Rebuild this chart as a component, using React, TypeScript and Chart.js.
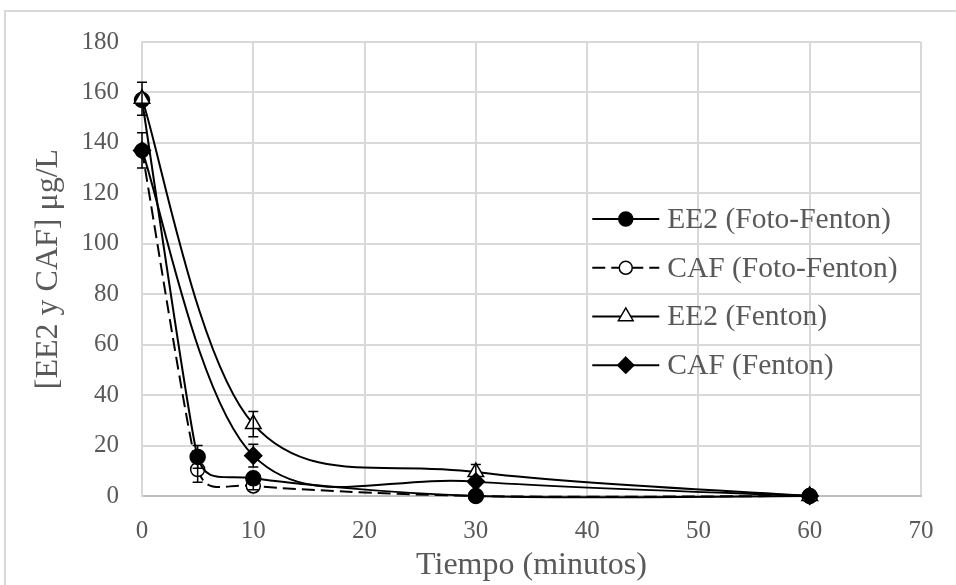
import React, { useEffect, useRef } from "react";
import { Chart, registerables } from "chart.js";

Chart.register(...registerables);

// ---- data ----
const fotoTimes = [0, 5, 10, 30, 60];
const fentonTimes = [0, 10, 30, 60];

const ee2FotoFenton = [157, 15.5, 7, 0, 0];
const ee2FotoFentonErr = [0, 4.5, 0, 0, 0];

const cafFotoFenton = [137, 10.5, 4, 0, 0];
const cafFotoFentonErr = [0, 5, 1.5, 0, 0];

const ee2Fenton = [157.5, 28.5, 9.5, 0];
const ee2FentonErr = [6.5, 5, 3, 0];

const cafFenton = [137, 16, 5.7, 0];
const cafFentonErr = [7, 4.5, 0, 0];

const seriesLabels = [
  "EE2 (Foto-Fenton)",
  "CAF (Foto-Fenton)",
  "EE2 (Fenton)",
  "CAF (Fenton)",
];

const xTicksMin = 0;
const xTicksMax = 70;
const xStep = 10;
const yTicksMin = 0;
const yTicksMax = 180;
const yStep = 20;

const xTitle = "Tiempo (minutos)";
const yTitle = "[EE2 y CAF] μg/L";

const FONT = "'Liberation Serif', 'Times New Roman', serif";
const TEXT = "#595959";
const GRID = "#d9d9d9";

const toXY = (xs: number[], ys: number[]) => xs.map((x, i) => ({ x, y: ys[i] }));

// Spreadsheet-style smoothed line: override bezier control points
const smoothPlugin = {
  id: "sheetSmooth",
  beforeDatasetDraw(chart: any, args: any) {
    const meta = args.meta;
    const line = meta.dataset;
    if (!line) return;
    line.updateControlPoints(chart.chartArea, meta.indexAxis);
    const pts = meta.data;
    const n = pts.length;
    const dist = (a: any, b: any) => Math.hypot(b.x - a.x, b.y - a.y);
    for (let i = 0; i < n; i++) {
      const p = pts[i];
      const prev = pts[Math.max(i - 1, 0)];
      const next = pts[Math.min(i + 1, n - 1)];
      const d02 = dist(prev, next);
      const d01 = dist(prev, p);
      const d12 = dist(p, next);
      let f = 1 / 6;
      if (d02 > 0) {
        if (!(d02 / 6 < d12 / 2 && d02 / 6 < d01 / 2)) {
          const dm = i === 0 ? d12 : i === n - 1 ? d01 : Math.min(d01, d12);
          f = dm / (2 * d02);
          if (i === 0 || i === n - 1) f = Math.min(f, 1 / 6);
        }
      }
      const tx = (next.x - prev.x) * f;
      const ty = (next.y - prev.y) * f;
      p.cp1x = p.x - tx;
      p.cp1y = p.y - ty;
      p.cp2x = p.x + tx;
      p.cp2y = p.y + ty;
    }
    line._path = undefined;
  },
};

const errorBarPlugin = {
  id: "errorBars",
  afterDatasetsDraw(chart: any) {
    const ctx = chart.ctx;
    const yScale = chart.scales.y;
    ctx.save();
    ctx.strokeStyle = "#000";
    ctx.lineWidth = 1.5;
    chart.data.datasets.forEach((ds: any, di: number) => {
      const errs: number[] = ds.errors || [];
      const meta = chart.getDatasetMeta(di);
      meta.data.forEach((pt: any, i: number) => {
        const e = errs[i];
        if (!e) return;
        const v = ds.data[i].y;
        const x = pt.x;
        const yTop = yScale.getPixelForValue(v + e);
        const yBot = yScale.getPixelForValue(Math.max(v - e, yTicksMin));
        ctx.beginPath();
        ctx.moveTo(x, yTop);
        ctx.lineTo(x, yBot);
        ctx.moveTo(x - 5, yTop);
        ctx.lineTo(x + 5, yTop);
        if (v - e >= yTicksMin) {
          ctx.moveTo(x - 5, yBot);
          ctx.lineTo(x + 5, yBot);
        }
        ctx.stroke();
      });
    });
    ctx.restore();
  },
};

const frameLegendPlugin = {
  id: "frameLegend",
  beforeDraw(chart: any) {
    const ctx = chart.ctx;
    ctx.save();
    ctx.fillStyle = "#fff";
    ctx.fillRect(0, 0, chart.width, chart.height);
    ctx.strokeStyle = GRID;
    ctx.lineWidth = 2;
    ctx.strokeRect(5, 11, chart.width + 20, chart.height + 20);
    ctx.restore();
  },
  afterDraw(chart: any) {
    const ctx = chart.ctx;
    const ca = chart.chartArea;
    const x0 = ca.left + (ca.right - ca.left) * 0.578;
    const lineLen = 67;
    const y0 = ca.top + (ca.bottom - ca.top) * 0.39;
    const rowH = 48.7;
    ctx.save();
    chart.data.datasets.forEach((ds: any, i: number) => {
      const y = y0 + i * rowH;
      ctx.strokeStyle = "#000";
      ctx.lineWidth = 2;
      ctx.setLineDash(ds.borderDash || []);
      ctx.beginPath();
      ctx.moveTo(x0, y);
      ctx.lineTo(x0 + lineLen, y);
      ctx.stroke();
      ctx.setLineDash([]);
      const cx = x0 + lineLen / 2;
      ctx.fillStyle = ds.pointBackgroundColor;
      ctx.strokeStyle = "#000";
      ctx.lineWidth = 1.5;
      const r = ds.pointRadius - 0.5;
      ctx.beginPath();
      if (ds.pointStyle === "circle") {
        ctx.arc(cx, y, r, 0, Math.PI * 2);
      } else if (ds.pointStyle === "triangle") {
        ctx.moveTo(cx, y - r);
        ctx.lineTo(cx + r * 0.87, y + r * 0.5);
        ctx.lineTo(cx - r * 0.87, y + r * 0.5);
        ctx.closePath();
      } else {
        ctx.moveTo(cx, y - r);
        ctx.lineTo(cx + r, y);
        ctx.lineTo(cx, y + r);
        ctx.lineTo(cx - r, y);
        ctx.closePath();
      }
      ctx.fill();
      ctx.stroke();
      ctx.fillStyle = TEXT;
      ctx.font = `29.5px ${FONT}`;
      ctx.textBaseline = "middle";
      ctx.textAlign = "left";
      ctx.fillText(ds.label, x0 + lineLen + 8, y + 1);
    });
    ctx.restore();
  },
};

export default function App() {
  const ref = useRef<HTMLCanvasElement>(null);

  useEffect(() => {
    const common = {
      borderColor: "#000",
      borderWidth: 2,
      pointBorderColor: "#000",
      pointBorderWidth: 1.5,
      tension: 0.4,
      fill: false,
      clip: false,
    };
    const chart = new Chart(ref.current as HTMLCanvasElement, {
      type: "line",
      data: {
        datasets: [
          {
            ...common,
            label: seriesLabels[0],
            data: toXY(fotoTimes, ee2FotoFenton),
            errors: ee2FotoFentonErr,
            pointStyle: "circle",
            pointRadius: 7.5,
            pointBackgroundColor: "#000",
            order: 2,
          } as any,
          {
            ...common,
            label: seriesLabels[1],
            data: toXY(fotoTimes, cafFotoFenton),
            errors: cafFotoFentonErr,
            borderDash: [13, 6],
            pointStyle: "circle",
            pointRadius: 7,
            pointBackgroundColor: "#fff",
            order: 3,
          } as any,
          {
            ...common,
            label: seriesLabels[2],
            data: toXY(fentonTimes, ee2Fenton),
            errors: ee2FentonErr,
            pointStyle: "triangle",
            pointRadius: 9,
            pointBackgroundColor: "#fff",
            order: 1,
          } as any,
          {
            ...common,
            label: seriesLabels[3],
            data: toXY(fentonTimes, cafFenton),
            errors: cafFentonErr,
            pointStyle: "rectRot",
            pointRadius: 8.5,
            pointBackgroundColor: "#000",
            order: 0,
          } as any,
        ],
      },
      options: {
        responsive: false,
        animation: false,
        devicePixelRatio: 1,
        layout: { padding: { left: 0, top: 42, right: 35, bottom: 0 } },
        plugins: {
          legend: { display: false },
          tooltip: { enabled: false },
        },
        scales: {
          x: {
            type: "linear",
            min: xTicksMin,
            max: xTicksMax,
            ticks: {
              stepSize: xStep,
              color: TEXT,
              font: { family: FONT, size: 25 },
              padding: 20,
              maxRotation: 0,
            },
            grid: { color: GRID, lineWidth: 2, drawTicks: false },
            border: { display: true, color: "#bfbfbf", width: 2 },
            title: {
              display: true,
              text: xTitle,
              color: TEXT,
              font: { family: FONT, size: 32 },
              padding: { top: 0, bottom: 0 },
            },
            afterFit(scale: any) {
              scale.height = 89;
            },
          },
          y: {
            type: "linear",
            min: yTicksMin,
            max: yTicksMax,
            ticks: {
              stepSize: yStep,
              color: TEXT,
              font: { family: FONT, size: 25 },
              padding: 23,
            },
            grid: { color: GRID, lineWidth: 2, drawTicks: false },
            border: { display: true, color: GRID, width: 2 },
            title: {
              display: true,
              text: yTitle,
              color: TEXT,
              font: { family: FONT, size: 32 },
              padding: { top: 29, bottom: 0 },
            },
            afterFit(scale: any) {
              scale.width = 142;
            },
          },
        },
      } as any,
      plugins: [frameLegendPlugin, smoothPlugin, errorBarPlugin],
    });
    return () => chart.destroy();
  }, []);

  return (
    <div
      style={{
        position: "fixed",
        left: 0,
        top: 0,
        width: 956,
        height: 585,
        background: "#fff",
      }}
    >
      <canvas
        ref={ref}
        width={956}
        height={585}
        style={{ display: "block", width: 956, height: 585 }}
      />
    </div>
  );
}
